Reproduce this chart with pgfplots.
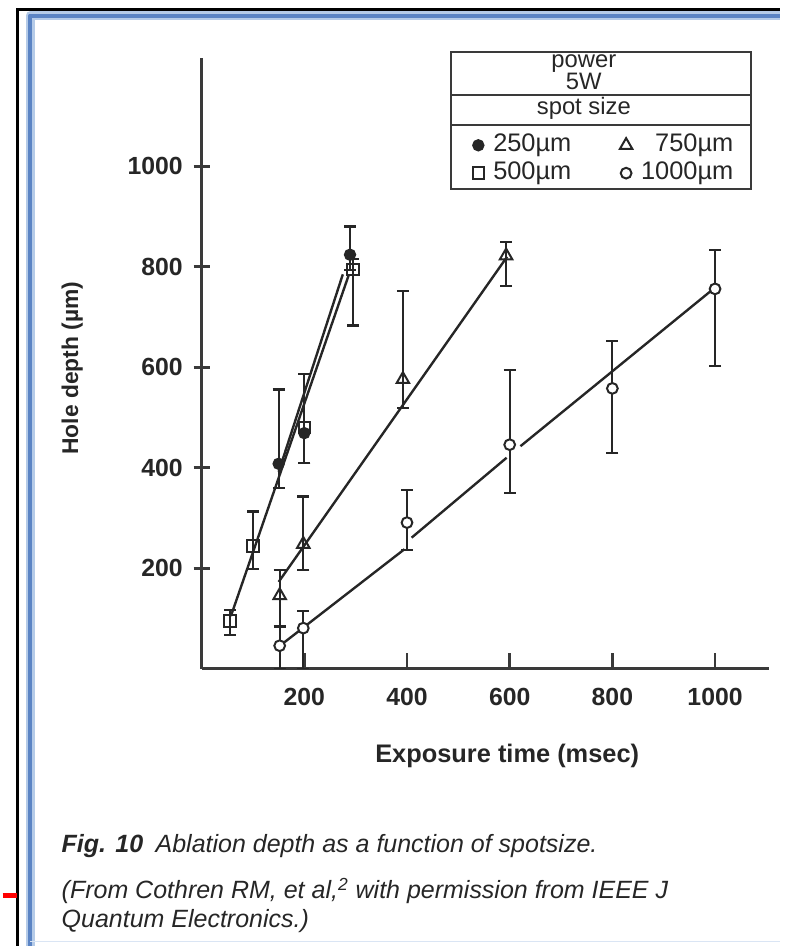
\documentclass[border=0pt]{standalone}
\usepackage{pgfplots}
\pgfplotsset{compat=1.18}
\usepackage{fontspec}
\setmainfont{Liberation Sans}
\definecolor{ink}{HTML}{262626}
\definecolor{axisgray}{HTML}{3A3A3A}
\definecolor{frameblue}{HTML}{5B84C4}
\definecolor{framehalo}{HTML}{B5CBE8}

% markers with asymmetric error bars
\pgfplotsset{
  errstyle/.style={only marks, line width=1bp, ink,
    legend image code/.code={\path[draw=none,fill=none] (0bp,-3bp) rectangle (13bp,3bp);
      \draw[mark repeat=2,mark phase=2,##1] plot coordinates {(0bp,0bp) (6.5bp,0bp) (13bp,0bp)};},
    error bars/y dir=both, error bars/y explicit,
    error bars/error bar style={line width=1.1bp, ink},
    error bars/error mark options={rotate=90, ink, line width=1.1bp, mark size=3bp}},
  fitline/.style={forget plot, ink, line width=1.2bp},
}

\begin{document}
\begin{tikzpicture}
% page 781 x 950 px, 1 px = 0.5 bp
\path (0,0) rectangle (390.5bp,475bp);
% scan frame
\draw[line width=1.2bp, black] (7.5bp,0) -- (7.5bp,470.3bp) -- (390.5bp,470.3bp);
\draw[line width=4.5bp, framehalo, line join=round] (13.8bp,0) -- (13.8bp,467bp) -- (390.5bp,467bp);
\draw[line width=2.4bp, frameblue, line join=round] (13.8bp,0) -- (13.8bp,467bp) -- (390.5bp,467bp);
\draw[line width=0.8bp, framehalo!50] (13.8bp,2bp) -- (390.5bp,2bp);
\draw[line width=2.6bp, red] (0,25.3bp) -- (7bp,25.3bp);

\begin{axis}[
  at={(100bp,139bp)}, anchor=south west,
  scale only axis, width=285bp, height=307bp,
  xmin=0, xmax=1105, ymin=0, ymax=1216,
  axis lines*=left,
  axis line style={-, line width=1.4bp, axisgray},
  xtick={200,400,600,800,1000}, xticklabels={200,400,600,800,1000},
  ytick={200,400,600,800,1000}, yticklabels={200,400,600,800,1000},
  major tick length=8bp,
  xtick align=inside, ytick align=center,
  tick style={line width=1.4bp, axisgray},
  ticklabel style={font=\bfseries\fontsize{12.5}{14}\selectfont, text=ink},
  xticklabel style={yshift=-6bp},
  yticklabel style={xshift=-2bp},
  xlabel={Exposure time (msec)},
  ylabel={Hole depth (µm)},
  xlabel style={at={(axis description cs:0.5386,-0.1433)}, anchor=center,
    font=\bfseries\fontsize{12.8}{15}\selectfont, text=ink},
  ylabel style={at={(axis description cs:-0.228,0.492)}, anchor=center,
    font=\bfseries\fontsize{11.5}{14}\selectfont, text=ink},
  legend columns=2,
  legend cell align=left,
  legend style={at={(axis description cs:0.4649,0.8795)}, anchor=north west,
    draw=none, fill=none, inner sep=0pt, outer sep=0pt,
    font=\fontsize{12.8}{14}\selectfont, text=ink,
    nodes={inner sep=1bp, text height=9bp, text depth=3bp},
    /tikz/every even column/.append style={column sep=20bp}},
]
% fitted lines
\addplot[fitline] coordinates {(150,392) (275,785)};
\addplot[fitline] coordinates {(57,105) (287,785)};
\addplot[fitline] coordinates {(150,173) (595,820)};
\addplot[fitline, unbounded coords=jump] coordinates {
  (150,44) (395,238) (402,nan) (409,261) (594,420) (607,nan) (621,443) (992,752)};

% 250 um
\addplot[errstyle, mark=*, mark size=2.6bp, mark options={solid, fill=ink, draw=ink}]
  coordinates {(150,408) += (0,148) -= (0,48)
               (200,469) += (0,117) -= (0,59)
               (289,824) += (0,56) -= (0,30)};
\addlegendentry{250µm}
% 750 um
\addplot[errstyle, mark=triangle, mark size=3.6bp, mark options={solid, fill=white, draw=ink}]
  coordinates {(152,146) += (0,50) -= (0,63)
               (198,248) += (0,95) -= (0,52)
               (392,576) += (0,176) -= (0,57)
               (593,822) += (0,27) -= (0,60)};
\addlegendentry{\hphantom{1}750µm}
% 500 um
\addplot[errstyle, mark=square, mark size=2.9bp, mark options={solid, fill=white, draw=ink}]
  coordinates {(55,95) += (0,22) -= (0,28)
               (100,244) += (0,69) -= (0,46)
               (200,480) += (0,106) -= (0,70)
               (295,795) += (0,20) -= (0,112)};
\addlegendentry{500µm}
% 1000 um
\addplot[errstyle, mark=*, mark size=2.7bp, mark options={solid, fill=white, draw=ink}]
  coordinates {(152,46) += (0,40) -= (0,46)
               (198,81) += (0,34) -= (0,81)
               (400,291) += (0,65) -= (0,55)
               (600,446) += (0,148) -= (0,96)
               (800,558) += (0,95) -= (0,128)
               (1000,756) += (0,78) -= (0,154)};
\addlegendentry{1000µm}
\end{axis}

% legend box and header
\draw[line width=1bp, axisgray] (225.5bp,380bp) rectangle (376bp,449bp);
\draw[line width=1bp, axisgray] (225.5bp,427.5bp) -- (376bp,427.5bp);
\draw[line width=1bp, axisgray] (225.5bp,412bp) -- (376bp,412bp);
\begin{scope}[every node/.append style={anchor=base, inner sep=0pt, text=ink,
    font=\fontsize{12}{14}\selectfont}]
\node at (292bp,440.9bp) {power};
\node at (292bp,429.8bp) {5W};
\node at (292bp,417.5bp) {spot size};
\end{scope}

% caption
\begin{scope}[every node/.append style={anchor=base west, inner sep=0pt, text=ink,
    font=\itshape\fontsize{12.6}{14}\selectfont}]
\node at (29.5bp,46.5bp) {\textbf{Fig. 10}\hspace{0.5em}Ablation depth as a function of spotsize.};
\node at (29.5bp,23.5bp) {(From Cothren RM, et al,\textsuperscript{2} with permission from IEEE J};
\node at (29.5bp,9bp) {Quantum Electronics.)};
\end{scope}
\end{tikzpicture}
\end{document}
